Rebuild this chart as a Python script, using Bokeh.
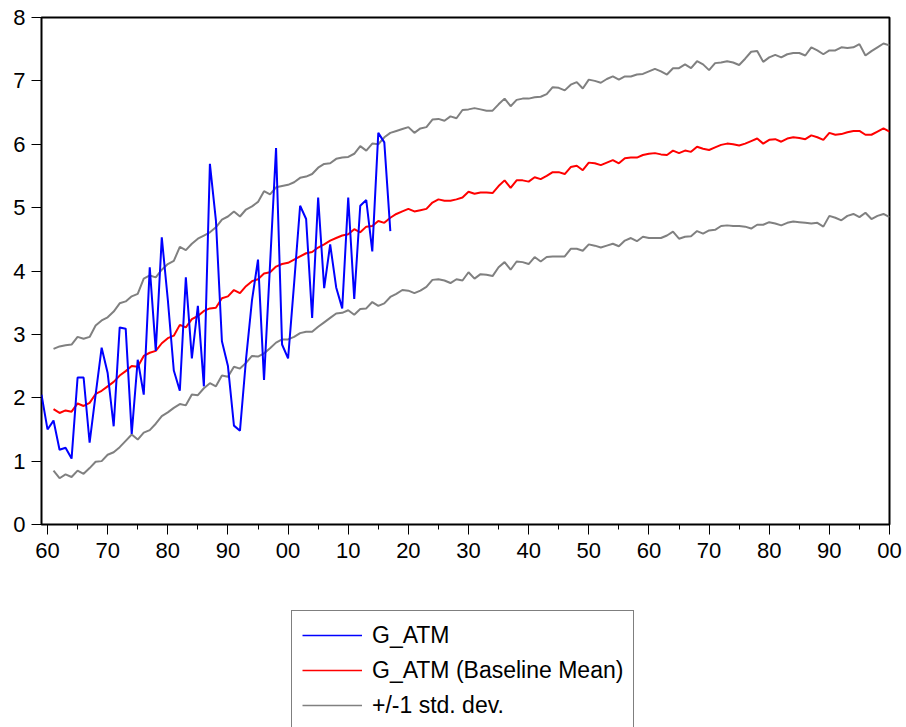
from bokeh.plotting import figure
from bokeh.layouts import column
from bokeh.models import Range1d, FixedTicker, Legend, LegendItem
from bokeh.embed import file_html
from bokeh.resources import INLINE

# ---- data -------------------------------------------------------------
blue_start = 1959
g_atm = [2.05, 1.50, 1.64, 1.18, 1.21, 1.04, 2.32, 2.32, 1.29, 2.05,
         2.79, 2.39, 1.55, 3.11, 3.09, 1.43, 2.60, 2.05, 4.06, 2.74,
         4.53, 3.55, 2.43, 2.11, 3.90, 2.62, 3.45, 2.18, 5.69, 4.80,
         2.89, 2.50, 1.56, 1.48, 2.60, 3.54, 4.18, 2.28, 4.10, 5.94,
         2.84, 2.62, 3.80, 5.03, 4.82, 3.26, 5.16, 3.73, 4.42, 3.74,
         3.41, 5.16, 3.56, 5.03, 5.12, 4.31, 6.18, 6.03, 4.63]

base_start = 1961
baseline_mean = [1.82, 1.76, 1.80, 1.78, 1.91, 1.87, 1.92, 2.06, 2.11, 2.18,
                 2.25, 2.35, 2.42, 2.50, 2.49, 2.66, 2.71, 2.74, 2.86, 2.94,
                 2.98, 3.15, 3.11, 3.24, 3.29, 3.37, 3.41, 3.42, 3.57, 3.60,
                 3.70, 3.65, 3.76, 3.84, 3.87, 3.96, 3.98, 4.07, 4.11, 4.13,
                 4.18, 4.23, 4.28, 4.30, 4.37, 4.42, 4.48, 4.52, 4.56, 4.58,
                 4.66, 4.61, 4.70, 4.71, 4.79, 4.76, 4.84, 4.90, 4.94, 4.98,
                 4.94, 4.96, 4.98, 5.08, 5.13, 5.11, 5.11, 5.13, 5.16, 5.25,
                 5.22, 5.24, 5.24, 5.23, 5.34, 5.43, 5.31, 5.43, 5.43, 5.41,
                 5.48, 5.45, 5.50, 5.56, 5.56, 5.53, 5.64, 5.66, 5.59, 5.71,
                 5.70, 5.67, 5.71, 5.75, 5.70, 5.78, 5.79, 5.79, 5.83, 5.85,
                 5.86, 5.84, 5.83, 5.90, 5.86, 5.90, 5.88, 5.96, 5.93, 5.91,
                 5.95, 5.99, 6.01, 6.00, 5.98, 6.01, 6.05, 6.09, 6.01, 6.07,
                 6.08, 6.04, 6.09, 6.11, 6.10, 6.08, 6.14, 6.11, 6.07, 6.18,
                 6.15, 6.16, 6.19, 6.21, 6.21, 6.15, 6.15, 6.20, 6.25, 6.20]

upper_sd = [2.77, 2.81, 2.83, 2.84, 2.96, 2.93, 2.96, 3.14, 3.22, 3.27,
            3.36, 3.49, 3.52, 3.60, 3.64, 3.88, 3.93, 3.90, 4.02, 4.11,
            4.16, 4.38, 4.33, 4.43, 4.51, 4.56, 4.61, 4.69, 4.81, 4.86,
            4.94, 4.86, 4.97, 5.02, 5.09, 5.26, 5.21, 5.32, 5.34, 5.36,
            5.40, 5.47, 5.49, 5.53, 5.63, 5.69, 5.70, 5.77, 5.79, 5.80,
            5.85, 5.97, 5.90, 6.01, 6.00, 6.11, 6.18, 6.21, 6.24, 6.27,
            6.18, 6.25, 6.27, 6.39, 6.40, 6.37, 6.44, 6.41, 6.54, 6.55,
            6.57, 6.55, 6.53, 6.53, 6.63, 6.72, 6.60, 6.70, 6.72, 6.72,
            6.74, 6.75, 6.79, 6.90, 6.89, 6.85, 6.94, 6.98, 6.88, 7.02,
            7.00, 6.97, 7.03, 7.07, 7.02, 7.07, 7.07, 7.10, 7.11, 7.15,
            7.19, 7.15, 7.10, 7.20, 7.20, 7.26, 7.20, 7.31, 7.26, 7.17,
            7.28, 7.29, 7.31, 7.29, 7.25, 7.35, 7.46, 7.47, 7.30, 7.37,
            7.41, 7.37, 7.42, 7.44, 7.44, 7.40, 7.53, 7.48, 7.42, 7.48,
            7.48, 7.53, 7.52, 7.53, 7.58, 7.40, 7.47, 7.53, 7.59, 7.56]

lower_sd = [0.85, 0.73, 0.79, 0.75, 0.85, 0.80, 0.89, 0.99, 1.00, 1.10,
            1.14, 1.22, 1.32, 1.42, 1.34, 1.45, 1.49, 1.59, 1.71, 1.77,
            1.84, 1.90, 1.88, 2.05, 2.04, 2.15, 2.23, 2.18, 2.35, 2.33,
            2.49, 2.46, 2.55, 2.66, 2.65, 2.70, 2.78, 2.87, 2.92, 2.92,
            2.96, 3.02, 3.04, 3.04, 3.12, 3.19, 3.26, 3.33, 3.34, 3.38,
            3.31, 3.40, 3.41, 3.51, 3.45, 3.49, 3.59, 3.64, 3.70, 3.69,
            3.65, 3.69, 3.75, 3.86, 3.87, 3.85, 3.81, 3.87, 3.85, 3.98,
            3.88, 3.95, 3.94, 3.92, 4.06, 4.14, 4.02, 4.15, 4.14, 4.11,
            4.22, 4.15, 4.22, 4.23, 4.23, 4.23, 4.35, 4.35, 4.32, 4.42,
            4.40, 4.37, 4.40, 4.43, 4.39, 4.48, 4.52, 4.47, 4.54, 4.52,
            4.52, 4.52, 4.56, 4.62, 4.51, 4.54, 4.55, 4.63, 4.59, 4.64,
            4.65, 4.71, 4.72, 4.71, 4.71, 4.70, 4.67, 4.73, 4.73, 4.77,
            4.75, 4.72, 4.76, 4.78, 4.77, 4.76, 4.75, 4.76, 4.70, 4.87,
            4.84, 4.80, 4.87, 4.90, 4.85, 4.92, 4.82, 4.87, 4.90, 4.85]

x_ticks = [1960, 1970, 1980, 1990, 2000, 2010, 2020, 2030, 2040, 2050,
           2060, 2070, 2080, 2090, 2100]
x_tick_labels = ["60", "70", "80", "90", "00", "10", "20", "30", "40", "50",
                 "60", "70", "80", "90", "00"]
x_minor = [1965, 1975, 1985, 1995, 2005, 2015, 2025, 2035, 2045, 2055,
           2065, 2075, 2085, 2095]
y_ticks = [0, 1, 2, 3, 4, 5, 6, 7, 8]

legend_labels = ["G_ATM", "G_ATM (Baseline Mean)", "+/-1 std. dev."]

BLUE, RED, GRAY = "#0000ff", "#ff0000", "#808080"
FONT = "Liberation Sans"

blue_years = list(range(blue_start, blue_start + len(g_atm)))
base_years = list(range(base_start, base_start + len(baseline_mean)))

# ---- main chart --------------------------------------------------------
W = 906
p = figure(width=W, height=609, output_backend="svg", toolbar_location=None,
           x_range=Range1d(1959, 2100), y_range=Range1d(0, 8),
           min_border_left=41, min_border_right=17,
           min_border_top=17, min_border_bottom=85)
p.background_fill_color = "white"
p.border_fill_color = "white"
p.outline_line_color = "black"
p.outline_line_width = 2
p.xgrid.visible = False
p.ygrid.visible = False

p.line(base_years, upper_sd, line_color=GRAY, line_width=2)
p.line(base_years, lower_sd, line_color=GRAY, line_width=2)
p.line(base_years, baseline_mean, line_color=RED, line_width=2)
p.line(blue_years, g_atm, line_color=BLUE, line_width=2)

xa = p.xaxis[0]
xa.ticker = FixedTicker(ticks=x_ticks, minor_ticks=x_minor)
xa.major_label_overrides = {t: l for t, l in zip(x_ticks, x_tick_labels)}
ya = p.yaxis[0]
ya.ticker = FixedTicker(ticks=y_ticks)
for ax in (xa, ya):
    ax.axis_line_color = None
    ax.major_tick_line_color = "black"
    ax.major_tick_line_width = 1
    ax.major_tick_in = 0
    ax.major_tick_out = 10
    ax.major_label_text_font = FONT
    ax.major_label_text_font_size = "22px"
    ax.major_label_text_color = "black"
xa.minor_tick_in = 0
xa.minor_tick_out = 5
xa.minor_tick_line_color = "black"
xa.major_label_standoff = 8
ya.minor_tick_line_color = None
ya.major_label_standoff = 6

# ---- legend strip (same series, kept out of view; only the key shows) --
q = figure(width=W, height=118, output_backend="svg", toolbar_location=None,
           x_range=Range1d(1959, 2100), y_range=Range1d(20, 21),
           x_axis_location=None, y_axis_location=None,
           min_border_left=0, min_border_right=0,
           min_border_top=0, min_border_bottom=0)
q.xgrid.visible = False
q.ygrid.visible = False
q.outline_line_color = None
q.background_fill_color = "white"
q.border_fill_color = "white"
lb = q.line(blue_years, g_atm, line_color=BLUE, line_width=1.5)
lr = q.line(base_years, baseline_mean, line_color=RED, line_width=1.5)
lg = q.line(base_years, upper_sd, line_color=GRAY, line_width=1.5)

legend = Legend(items=[
    LegendItem(label=legend_labels[0], renderers=[lb]),
    LegendItem(label=legend_labels[1], renderers=[lr]),
    LegendItem(label=legend_labels[2], renderers=[lg]),
], location=(250, -3))
legend.label_text_font = FONT
legend.label_text_font_size = "23px"
legend.label_text_color = "black"
legend.glyph_width = 60
legend.glyph_height = 28
legend.label_height = 28
legend.label_standoff = 10
legend.padding = 10
legend.spacing = 7
legend.margin = 0
legend.border_line_color = "black"
legend.border_line_width = 1
legend.background_fill_color = "white"
legend.background_fill_alpha = 1
q.add_layout(legend)

layout = column(p, q, spacing=0)
open("out.html", "w").write(file_html(layout, INLINE))
